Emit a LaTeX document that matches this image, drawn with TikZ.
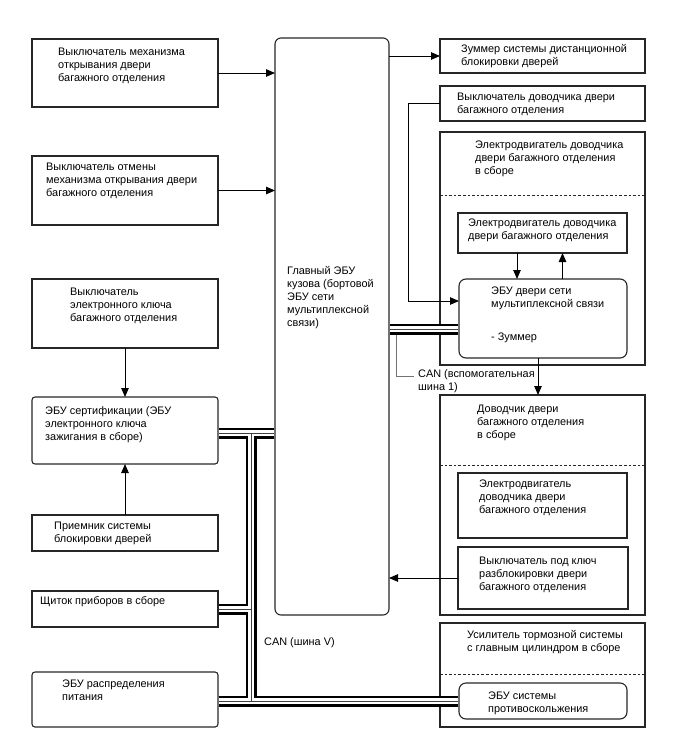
\documentclass[tikz,border=0pt]{standalone}
\usepackage{fontspec}
\setmainfont{Liberation Sans}
\usetikzlibrary{arrows.meta}

\tikzset{
  blk/.style={draw=black!85, line width=1.1pt, inner sep=0pt, outer sep=0pt, anchor=north west},
  % text placed by the baseline of its first line (strut height = 0.7 x 13.1pt)
  txt/.style={inner sep=0pt, anchor=north west, yshift=9.17pt, align=left, font=\fontsize{10.9}{13.1}\selectfont},
  sig/.style={draw=black, line width=0.9pt, -{Triangle[length=9pt,width=7.5pt]}},
  sep/.style={draw=black!85, line width=0.9pt, dash pattern=on 2.6pt off 2pt},
  lead/.style={draw=black!55, line width=0.8pt},
  canbus/.style 2 args={line width=#1, draw=#2}
}

\begin{document}
\begin{tikzpicture}[x=1pt, y=-1pt]
\useasboundingbox (0,0) rectangle (688,755);

% left column
\node[blk, minimum width=186pt, minimum height=68pt] (swopen) at (32,39) {};
\node[blk, minimum width=186pt, minimum height=69pt] (swcancel) at (32,156) {};
\node[blk, minimum width=186pt, minimum height=69pt] (swkey) at (32,279) {};
\node[blk, rounded corners=3pt, minimum width=186pt, minimum height=67pt] (cert) at (32,397) {};
\node[blk, minimum width=186pt, minimum height=36pt] (recv) at (32,515) {};
\node[blk, minimum width=186pt, minimum height=36pt] (cluster) at (32,591) {};
\node[blk, rounded corners=3pt, minimum width=186pt, minimum height=55pt] (power) at (32,672) {};

\node[txt] (tswopen) at ([shift={(26,16)}]swopen.north west) {\strut Выключатель механизма\\открывания двери\\багажного отделения};
\node[txt] (tswcancel) at ([shift={(14,14)}]swcancel.north west) {\strut Выключатель отмены\\механизма открывания двери\\багажного отделения};
\node[txt] (tswkey) at ([shift={(38,16)}]swkey.north west) {\strut Выключатель\\электронного ключа\\багажного отделения};
\node[txt] (tcert) at ([shift={(13,17)}]cert.north west) {\strut ЭБУ сертификации (ЭБУ\\электронного ключа\\зажигания в сборе)};
\node[txt] (trecv) at ([shift={(22,14)}]recv.north west) {\strut Приемник системы\\блокировки дверей};
\node[txt] (tcluster) at ([shift={(8,13)}]cluster.north west) {\strut Щиток приборов в сборе};
\node[txt] (tpower) at ([shift={(30,15)}]power.north west) {\strut ЭБУ распределения\\питания};

% main body ECU
\node[blk, rounded corners=6pt, minimum width=114pt, minimum height=577pt] (main) at (275,38) {};
\node[txt] (tmain) at (287,274) {\strut Главный ЭБУ\\кузова (бортовой\\ЭБУ сети\\мультиплексной\\связи)};

% right column
\node[blk, minimum width=205pt, minimum height=34pt] (buzzer) at (440,39) {};
\node[blk, minimum width=205pt, minimum height=35pt] (swcloser) at (440,86) {};
\node[blk, minimum width=205pt, minimum height=233pt] (motorasm) at (440,132) {};
\node[blk, minimum width=169pt, minimum height=40pt] (motor) at (458,213) {};
\node[blk, rounded corners=7pt, minimum width=168pt, minimum height=79pt] (doorecu) at (459,279) {};
\node[blk, minimum width=205pt, minimum height=220pt] (closer) at (440,395) {};
\node[blk, minimum width=169pt, minimum height=65pt] (closermotor) at (458,473) {};
\node[blk, minimum width=170pt, minimum height=62pt] (keysw) at (458,547) {};
\node[blk, minimum width=205pt, minimum height=104pt] (brake) at (440,623) {};
\node[blk, rounded corners=7pt, minimum width=168pt, minimum height=36pt] (abs) at (459,683) {};

\draw[sep] (motorasm.west |- 0,195) -- (motorasm.east |- 0,195);
\draw[sep] (closer.west |- 0,465) -- (closer.east |- 0,465);
\draw[sep] (brake.west |- 0,674) -- (brake.east |- 0,674);

\node[txt] (tbuzzer) at ([shift={(21,13)}]buzzer.north west) {\strut Зуммер системы дистанционной\\блокировки дверей};
\node[txt] (tswcloser) at ([shift={(17,14)}]swcloser.north west) {\strut Выключатель доводчика двери\\багажного отделения};
\node[txt] (tmotorasm) at ([shift={(35,16)}]motorasm.north west) {\strut Электродвигатель доводчика\\двери багажного отделения\\в сборе};
\node[txt] (tmotor) at ([shift={(10,13)}]motor.north west) {\strut Электродвигатель доводчика\\двери багажного отделения};
\node[txt] (tdoorecu) at ([shift={(32,15)}]doorecu.north west) {\strut ЭБУ двери сети\\мультиплексной связи\\[20pt]- Зуммер};
\node[txt] (tcloser) at ([shift={(37,17)}]closer.north west) {\strut Доводчик двери\\багажного отделения\\в сборе};
\node[txt] (tclosermotor) at ([shift={(21,14)}]closermotor.north west) {\strut Электродвигатель\\доводчика двери\\багажного отделения};
\node[txt] (tkeysw) at ([shift={(21,17)}]keysw.north west) {\strut Выключатель под ключ\\разблокировки двери\\багажного отделения};
\node[txt] (tbrake) at ([shift={(27,15)}]brake.north west) {\strut Усилитель тормозной системы\\с главным цилиндром в сборе};
\node[txt] (tabs) at ([shift={(29,16)}]abs.north west) {\strut ЭБУ системы\\противоскольжения};

% signal lines
\draw[sig] (swopen.east) -- (swopen.east -| main.west);
\draw[sig] (swcancel.east) -- (swcancel.east -| main.west);
\draw[sig] (buzzer.west -| main.east) -- (buzzer.west);
\draw[sig] (swkey.south) -- (cert.north);
\draw[sig] (recv.north) -- (cert.south);
\draw[sig] (swcloser.west) -- ++(-32,0) |- ([yshift=17.5pt]doorecu.west);
\coordinate (mdn) at ([xshift=-25.5pt]motor.south);
\coordinate (mup) at ([xshift=19.5pt]doorecu.north);
\draw[sig] (mdn) -- (mdn |- doorecu.north);
\draw[sig] (mup) -- (mup |- motor.south);
\coordinate (edn) at ([xshift=-5pt]doorecu.south);
\draw[sig] (edn) -- (edn |- closer.north);
\draw[sig] (keysw.west) -- (keysw.west -| main.east);

% CAN buses
\coordinate (vtop) at (251,433);
\coordinate (vbot) at (vtop |- abs.west);
\coordinate (canaux) at ([yshift=-10.5pt]doorecu.west);
\coordinate (busl) at (canaux -| main.east);
\foreach \lw/\lc in {11pt/black, 6.6pt/white, 0.8pt/black!75} {
  \draw[canbus={\lw}{\lc}, shorten <=0.6pt, shorten >=0.6pt] (cert.east |- vtop) -- (main.west |- vtop);
  \draw[canbus={\lw}{\lc}] (vtop) -- (vbot);
  \draw[canbus={\lw}{\lc}, shorten <=0.6pt] (cluster.east) -- (cluster.east -| vtop);
  \draw[canbus={\lw}{\lc}, shorten <=0.6pt, shorten >=0.6pt] (power.east |- vbot) -- (abs.west);
  \draw[canbus={\lw}{\lc}, shorten <=0.6pt, shorten >=0.6pt] (busl) -- (canaux);
}

\node[txt] (tcanaux) at (418,377) {\strut CAN (вспомогательная\\шина 1)};
\draw[lead] ([shift={(7,5.5)}]busl) |- ([shift={(-4,-1)}]tcanaux.north west |- 0,377);
\node[txt] (tcanv) at (264,645) {\strut CAN (шина V)};
\end{tikzpicture}
\end{document}
